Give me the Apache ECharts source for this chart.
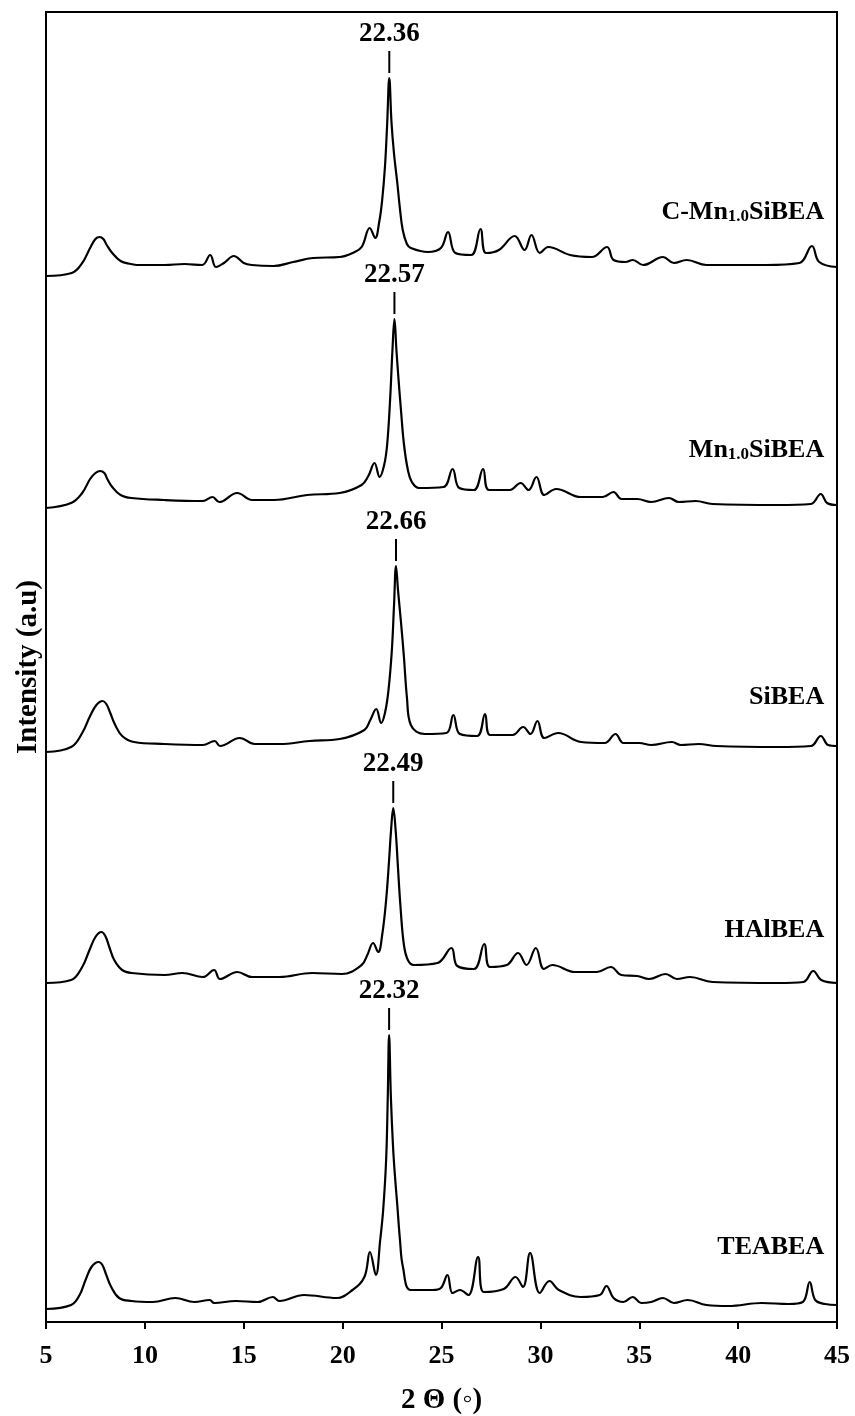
<!DOCTYPE html>
<html>
<head>
<meta charset="utf-8">
<script src="https://cdn.jsdelivr.net/npm/echarts@6/dist/echarts.min.js"></script>
<style>
html,body{margin:0;padding:0;background:#fff;}
#chart{width:855px;height:1416px;}
</style>
</head>
<body>
<div id="chart"></div>
<script>
// ---- Data (2θ in degrees, intensity in arbitrary units incl. stacking offset) ----
const sampleNames = ['C-Mn1.0SiBEA', 'Mn1.0SiBEA', 'SiBEA', 'HAlBEA', 'TEABEA'];
const peakLabels = ['22.36', '22.57', '22.66', '22.49', '22.32'];
const xTickValues = [5, 10, 15, 20, 25, 30, 35, 40, 45];

const traceCMnSiBEA = [
  [5.0,1046],[6.3,1049],[6.83,1059],[7.23,1074],[7.5,1083],[7.71,1085],[7.9,1083],[8.07,1077],[8.35,1069],
  [8.77,1061],[9.3,1058],[9.6,1057],
  [11.0,1057],[12.0,1058],[12.9,1057],[13.3,1067],[13.6,1055],[14.0,1059],[14.5,1066],[15.0,1059],
  [15.4,1057],[16.5,1056],[17.5,1060],[18.5,1064],[19.85,1065],[20.5,1069],[20.96,1075],[21.37,1094],
  [21.65,1084],[21.85,1100],[22.0,1122],[22.14,1155],[22.25,1197],[22.36,1244],[22.47,1200],[22.6,1168],
  [22.76,1140],[22.9,1113],[23.04,1092],[23.25,1078],[23.45,1074],[24.3,1070],[24.97,1074],[25.33,1090],
  [25.7,1069],[26.5,1067],[26.97,1093],[27.25,1069],[27.9,1072],[28.7,1086],[29.2,1072],[29.55,1087],
  [29.97,1069],[30.4,1075],[31.5,1067],[32.6,1065],[33.37,1075],[33.7,1062],[34.3,1060],[34.67,1062],
  [35.2,1057],[36.2,1065],[36.75,1059],[37.4,1062],[38.4,1057],[41.4,1057],[43.1,1059],[43.73,1076],
  [44.1,1060],[45.0,1055]
];
const traceMnSiBEA = [
  [5.0,814],[6.27,819],[6.83,829],[7.23,843],[7.5,849],[7.74,851],[7.95,849],[8.1,843],[8.35,835],
  [8.77,827],[9.32,824],[10.98,822],
  [12.93,821],[13.42,825],[13.76,820],[14.67,829],[15.42,822],[16.53,822],[18.2,827],[19.85,829],
  [20.96,837],[21.3,846],[21.61,859],[21.87,845],[22.1,857],[22.25,877],[22.4,922],[22.52,972],
  [22.62,1003],[22.72,972],[22.83,942],[22.95,912],[23.1,878],[23.3,852],[23.5,840],[23.86,834],
  [25.1,835],[25.56,853],[25.9,834],[26.64,832],[27.1,853],[27.4,832],[28.45,832],[29.0,839],
  [29.4,832],[29.8,845],[30.2,827],[30.8,833],[32.05,825],[33.15,825],[33.7,830],[34.1,823],
  [34.9,823],[35.6,820],[36.5,824],[37.0,820],[37.86,821],[38.7,818],[42.0,817],[43.68,818],
  [44.18,828],[44.5,819],[45.0,817]
];
const traceSiBEA = [
  [5.0,570],[6.27,575],[6.83,589],[7.23,606],[7.55,617],[7.86,621],[8.05,618],[8.25,609],[8.5,597],
  [8.85,586],[9.45,580],[11.0,578],
  [12.93,577],[13.53,581],[13.8,576],[14.8,584],[15.55,578],[16.8,578],[18.33,581],[19.85,583],
  [21.1,592],[21.4,602],[21.7,613],[21.95,599],[22.15,610],[22.32,632],[22.49,672],[22.6,717],
  [22.7,756],[22.8,732],[22.95,700],[23.1,665],[23.25,625],[23.45,597],[24.15,588],[25.25,589],
  [25.6,607],[25.93,588],[26.8,586],[27.2,608],[27.46,587],[28.6,587],[29.13,595],[29.5,588],
  [29.85,601],[30.2,584],[30.9,589],[32.05,580],[33.25,579],[33.8,588],[34.2,579],[35.0,579],
  [35.6,577],[36.65,580],[37.1,577],[38.0,578],[38.9,576],[42.0,575],[43.68,576],[44.18,586],
  [44.55,577],[45.0,576]
];
const traceHAlBEA = [
  [5.0,339],[6.27,342],[6.83,355],[7.2,372],[7.5,385],[7.8,390],[8.0,386],[8.2,375],[8.45,362],
  [8.85,352],[9.32,349],[11.0,347],
  [11.9,349],[12.93,345],[13.5,352],[13.8,343],[14.67,350],[15.42,345],[16.8,345],[18.46,349],
  [19.96,348],[20.96,357],[21.25,367],[21.54,379],[21.8,370],[22.0,387],[22.2,422],[22.35,462],
  [22.45,492],[22.56,514],[22.68,492],[22.8,454],[22.92,417],[23.1,377],[23.3,362],[23.59,357],
  [24.8,359],[25.5,374],[25.8,356],[26.64,353],[27.16,378],[27.45,355],[28.3,357],[28.87,369],
  [29.3,357],[29.77,374],[30.18,353],[30.6,357],[31.75,350],[32.86,350],[33.56,355],[34.1,347],
  [34.9,346],[35.5,343],[36.33,348],[36.9,343],[37.57,345],[38.7,340],[42.0,339],[43.3,340],
  [43.8,351],[44.2,342],[45.0,339]
];
const traceTEABEA = [
  [5.0,13],[6.27,17],[6.7,27],[7.0,42],[7.3,55],[7.66,60],[7.85,57],[8.05,47],[8.3,35],[8.7,24],
  [9.32,21],[10.4,20],[11.54,24],
  [12.5,20],[13.28,22],[13.5,19],[14.6,21],[15.7,20],[16.47,25],[16.8,21],[18.05,27],[19.7,24],
  [20.5,32],[21.1,45],[21.38,70],[21.68,47],[21.9,82],[22.05,112],[22.2,162],[22.28,222],[22.35,287],
  [22.44,225],[22.55,175],[22.65,145],[22.76,118],[22.9,82],[23.05,55],[23.45,32],[24.56,32],
  [24.97,34],[25.3,47],[25.56,29],[25.93,32],[26.36,27],[26.85,65],[27.13,30],[28.15,33],[28.74,45],
  [29.12,35],[29.48,69],[29.97,29],[30.46,41],[30.93,32],[32.04,25],[33.0,27],[33.34,36],[33.7,24],
  [34.2,20],[34.67,25],[35.1,19],[35.6,20],[36.2,24],[36.75,19],[37.45,22],[38.4,17],[39.5,16],
  [41.2,19],[42.56,18],[43.27,20],[43.62,40],[43.9,22],[44.4,18],[45.0,17]
];
const traces = [traceCMnSiBEA, traceMnSiBEA, traceSiBEA, traceHAlBEA, traceTEABEA];

// ---- Layout / style (not data) ----
const FONT = "'Liberation Serif', 'Times New Roman', serif";
const labelAnchors = [[44.38,1110],[44.38,872],[44.38,625],[44.38,392],[44.38,75]];

const chart = echarts.init(document.getElementById('chart'), null, {renderer: 'canvas'});

const lineSeries = traces.map((tr, i) => ({
  type: 'line',
  name: sampleNames[i],
  data: tr,
  showSymbol: false,
  smooth: 0.4,
  silent: true,
  lineStyle: {color: '#000', width: 2.2},
  markPoint: {
    silent: true,
    symbol: 'rect',
    symbolSize: [2, 22],
    symbolOffset: [0, -16],
    itemStyle: {color: '#000'},
    label: {
      show: true,
      position: 'inside',
      offset: [0, -28],
      formatter: peakLabels[i],
      fontFamily: FONT,
      fontWeight: 'bold',
      fontSize: 27,
      color: '#000'
    },
    data: [{type: 'max'}]
  }
}));

function richName(n) {
  return n.replace('1.0', '{s|1.0}');
}

const nameSeries = {
  type: 'scatter',
  silent: true,
  symbolSize: 1,
  itemStyle: {color: 'rgba(0,0,0,0)', opacity: 1},
  data: sampleNames.map((n, i) => ({name: n, value: labelAnchors[i]})),
  label: {
    show: true,
    position: 'left',
    distance: 0,
    opacity: 1,
    formatter: p => richName(p.name),
    fontFamily: FONT,
    fontWeight: 'bold',
    fontSize: 26,
    lineHeight: 26,
    color: '#000',
    rich: {
      s: {fontFamily: FONT, fontWeight: 'bold', fontSize: 17, lineHeight: 12, verticalAlign: 'bottom', color: '#000'}
    }
  }
};

chart.setOption({
  backgroundColor: '#fff',
  animation: false,
  grid: {left: 46, right: 18, top: 12, bottom: 94, outerBoundsMode: 'none', containLabel: false,
         show: true, borderColor: '#000', borderWidth: 2, backgroundColor: 'transparent'},
  xAxis: {
    type: 'value',
    min: xTickValues[0],
    max: xTickValues[xTickValues.length - 1],
    interval: 5,
    axisLine: {show: true, lineStyle: {color: '#000', width: 2}},
    axisTick: {show: true, inside: false, length: 7, lineStyle: {color: '#000', width: 2}},
    axisLabel: {fontFamily: FONT, fontWeight: 'bold', fontSize: 26, color: '#000', margin: 21},
    splitLine: {show: false},
    name: '2 \u0398 (\u25E6)',
    nameLocation: 'middle',
    nameGap: 64,
    nameTextStyle: {fontFamily: FONT, fontWeight: 'bold', fontSize: 29, color: '#000'}
  },
  yAxis: {
    type: 'value',
    min: 0,
    max: 1310,
    axisLine: {show: true, lineStyle: {color: '#000', width: 2}},
    axisTick: {show: false},
    axisLabel: {show: false},
    splitLine: {show: false},
    name: 'Intensity (a.u)',
    nameLocation: 'middle',
    nameRotate: 90,
    nameGap: 3,
    nameTextStyle: {fontFamily: FONT, fontWeight: 'bold', fontSize: 29, color: '#000'}
  },
  series: lineSeries.concat([nameSeries])
});
</script>
</body>
</html>
